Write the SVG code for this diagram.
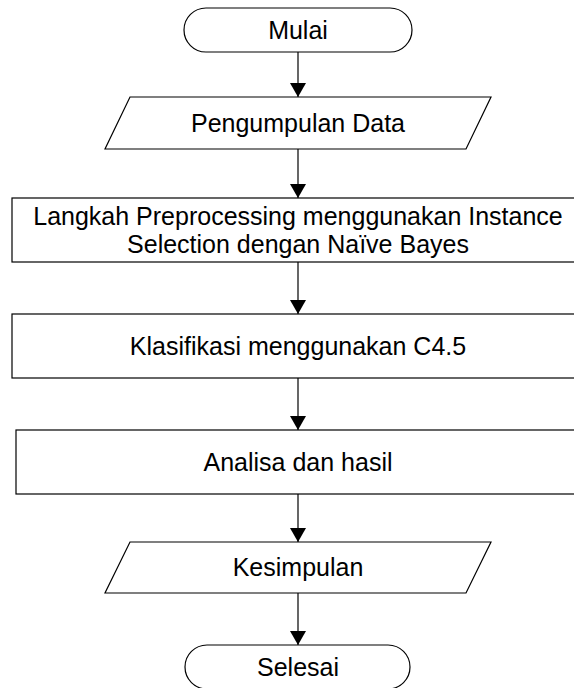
<svg xmlns="http://www.w3.org/2000/svg" width="574" height="688" viewBox="0 0 574 688">
  <defs>
    <marker id="arrow" markerWidth="14" markerHeight="16" refX="14" refY="8" orient="auto" markerUnits="userSpaceOnUse">
      <path d="M0,0 L14,8 L0,16 Z" fill="#000"/>
    </marker>
  </defs>
  <style>
    .shape { fill: #fff; stroke: #000; stroke-width: 1.2; }
    .label { font-family: "Liberation Sans", Arial, sans-serif; font-size: 25px; fill: #000; text-anchor: middle; }
    .conn { stroke: #000; stroke-width: 1.2; fill: none; marker-end: url(#arrow); }
  </style>
  <rect width="574" height="688" fill="#fff"/>

  <g id="connectors">
    <line class="conn" x1="298" y1="52" x2="298" y2="97"/>
    <line class="conn" x1="298" y1="149" x2="298" y2="198"/>
    <line class="conn" x1="298" y1="262" x2="298" y2="314"/>
    <line class="conn" x1="298" y1="378" x2="298" y2="430"/>
    <line class="conn" x1="298" y1="494" x2="298" y2="542"/>
    <line class="conn" x1="298" y1="593" x2="298" y2="645"/>
  </g>

  <g id="mulai">
    <rect class="shape" x="184" y="8" width="228" height="44" rx="22" ry="22"/>
    <text class="label" x="298" y="39">Mulai</text>
  </g>

  <g id="pengumpulan-data">
    <polygon class="shape" points="130,97 491,97 466,149 105,149"/>
    <text class="label" x="298" y="132">Pengumpulan Data</text>
  </g>

  <g id="preprocessing">
    <rect class="shape" x="12" y="198" width="563" height="64"/>
    <text class="label" x="298" y="225">Langkah Preprocessing menggunakan Instance</text>
    <text class="label" x="298" y="253">Selection dengan Naïve Bayes</text>
  </g>

  <g id="klasifikasi">
    <rect class="shape" x="12" y="314" width="563" height="64"/>
    <text class="label" x="298" y="355">Klasifikasi menggunakan C4.5</text>
  </g>

  <g id="analisa">
    <rect class="shape" x="16" y="430" width="559" height="64"/>
    <text class="label" x="298" y="471">Analisa dan hasil</text>
  </g>

  <g id="kesimpulan">
    <polygon class="shape" points="130,542 491,542 466,593 105,593"/>
    <text class="label" x="298" y="576">Kesimpulan</text>
  </g>

  <g id="selesai">
    <rect class="shape" x="185" y="645" width="225" height="44" rx="22" ry="22"/>
    <text class="label" x="298" y="676">Selesai</text>
  </g>
</svg>
